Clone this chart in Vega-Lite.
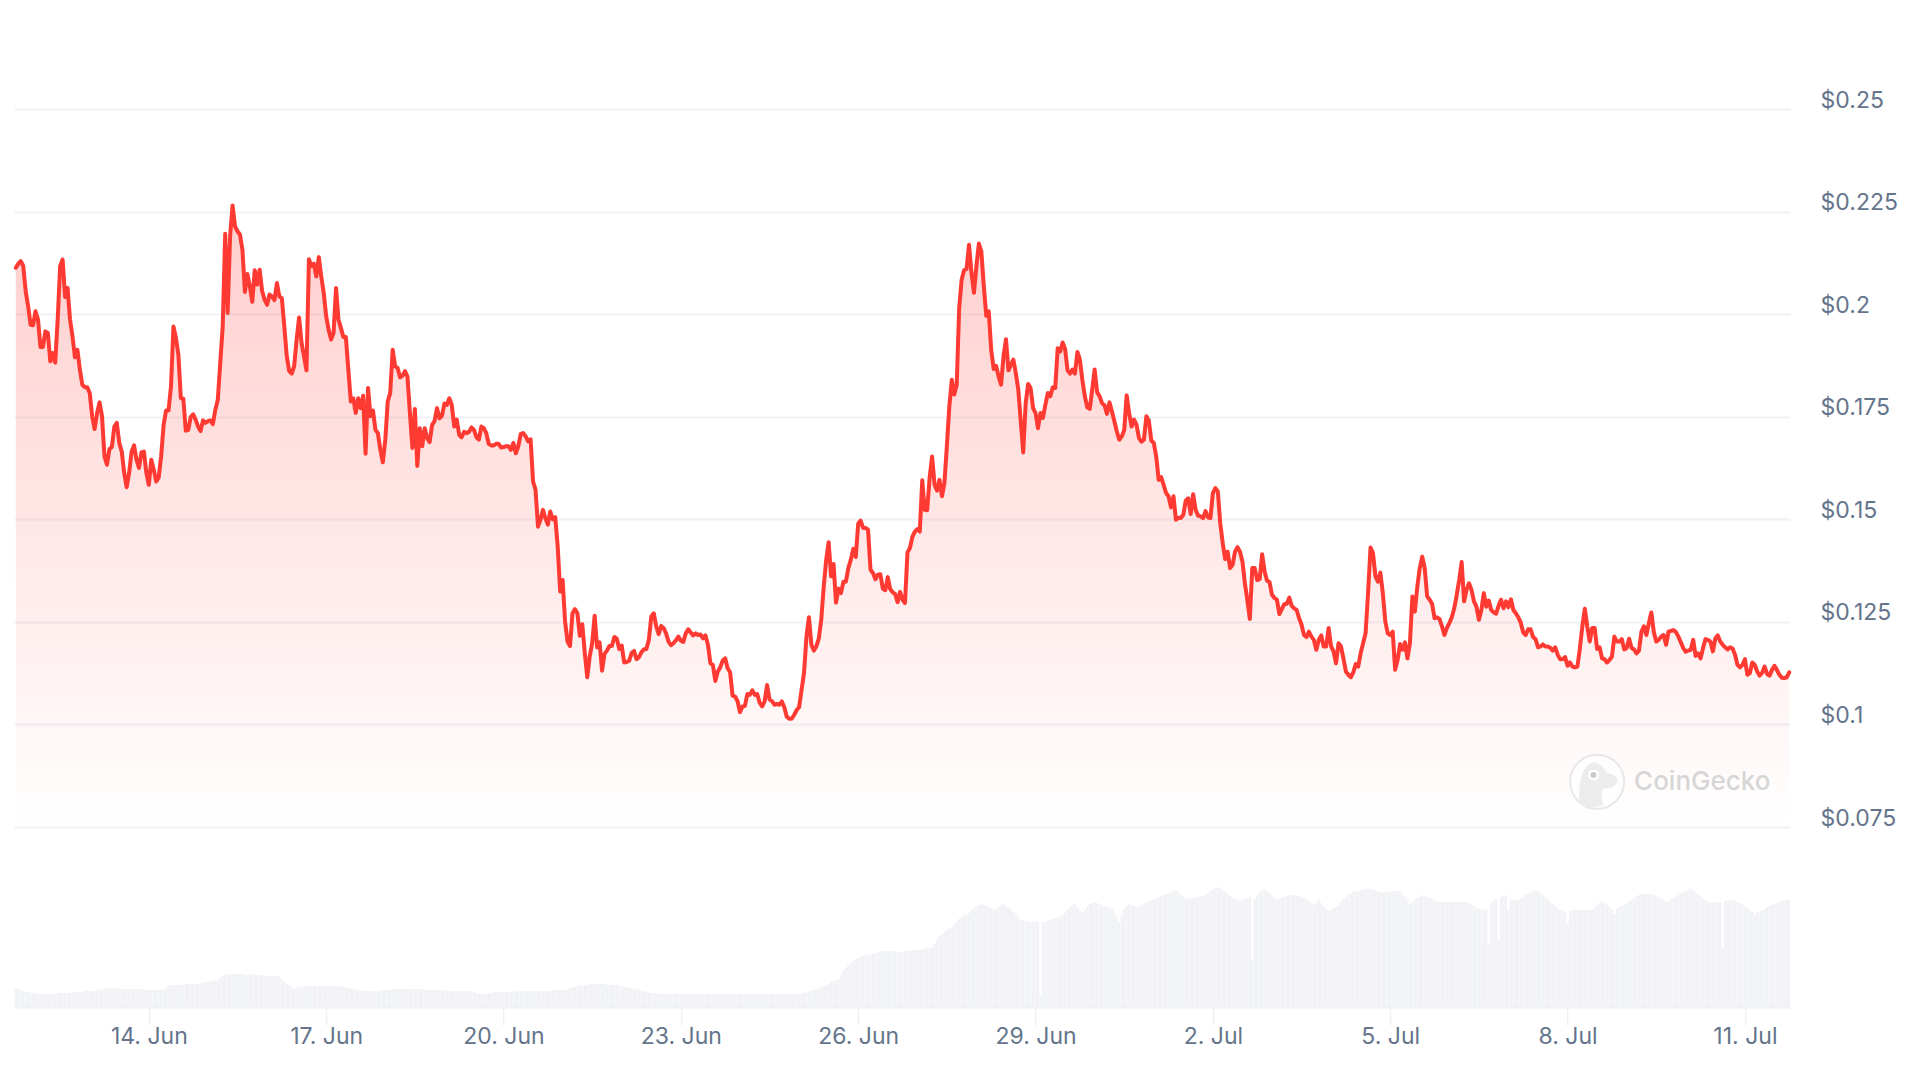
{
"$schema":"https://vega.github.io/schema/vega-lite/v6.json",
"autosize":"none",
"padding":{"left":14.1,"top":109,"right":125.9,"bottom":61},
"width":1776,
"height":898,
"background":"white",
"config":{"view":{"stroke":null},"font":"Inter"},
"datasets":{"market":[
{"t":"2024-06-11T18:00","p":0.2113,"v":18},{"t":"2024-06-11T19:00","p":0.2123,"v":18},{"t":"2024-06-11T20:00","p":0.2129,"v":17},{"t":"2024-06-11T21:00","p":0.2118,"v":16},{"t":"2024-06-11T22:00","p":0.2056,"v":15},{"t":"2024-06-11T23:00","p":0.2019,"v":15},
{"t":"2024-06-12T00:00","p":0.1974,"v":14},{"t":"2024-06-12T01:00","p":0.1973,"v":14},{"t":"2024-06-12T02:00","p":0.2007,"v":14},{"t":"2024-06-12T03:00","p":0.1987,"v":13},{"t":"2024-06-12T04:00","p":0.1920,"v":13},{"t":"2024-06-12T05:00","p":0.1920,"v":13},{"t":"2024-06-12T06:00","p":0.1958,"v":13},{"t":"2024-06-12T07:00","p":0.1954,"v":13},{"t":"2024-06-12T08:00","p":0.1885,"v":13},{"t":"2024-06-12T09:00","p":0.1905,"v":13},{"t":"2024-06-12T10:00","p":0.1882,"v":13},{"t":"2024-06-12T11:00","p":0.1987,"v":14},{"t":"2024-06-12T12:00","p":0.2117,"v":14},{"t":"2024-06-12T13:00","p":0.2133,"v":14},{"t":"2024-06-12T14:00","p":0.2042,"v":14},{"t":"2024-06-12T15:00","p":0.2064,"v":14},{"t":"2024-06-12T16:00","p":0.1987,"v":14},{"t":"2024-06-12T17:00","p":0.1946,"v":15},{"t":"2024-06-12T18:00","p":0.1895,"v":15},{"t":"2024-06-12T19:00","p":0.1913,"v":15},{"t":"2024-06-12T20:00","p":0.1865,"v":15},{"t":"2024-06-12T21:00","p":0.1828,"v":15},{"t":"2024-06-12T22:00","p":0.1822,"v":16},{"t":"2024-06-12T23:00","p":0.1822,"v":16},
{"t":"2024-06-13T00:00","p":0.1808,"v":16},{"t":"2024-06-13T01:00","p":0.1751,"v":16},{"t":"2024-06-13T02:00","p":0.1720,"v":16},{"t":"2024-06-13T03:00","p":0.1759,"v":17},{"t":"2024-06-13T04:00","p":0.1785,"v":17},{"t":"2024-06-13T05:00","p":0.1751,"v":18},{"t":"2024-06-13T06:00","p":0.1653,"v":18},{"t":"2024-06-13T07:00","p":0.1633,"v":19},{"t":"2024-06-13T08:00","p":0.1671,"v":19},{"t":"2024-06-13T09:00","p":0.1676,"v":19},{"t":"2024-06-13T10:00","p":0.1726,"v":19},{"t":"2024-06-13T11:00","p":0.1735,"v":19},{"t":"2024-06-13T12:00","p":0.1686,"v":18},{"t":"2024-06-13T13:00","p":0.1665,"v":18},{"t":"2024-06-13T14:00","p":0.1613,"v":18},{"t":"2024-06-13T15:00","p":0.1578,"v":18},{"t":"2024-06-13T16:00","p":0.1613,"v":18},{"t":"2024-06-13T17:00","p":0.1665,"v":18},{"t":"2024-06-13T18:00","p":0.1680,"v":18},{"t":"2024-06-13T19:00","p":0.1645,"v":18},{"t":"2024-06-13T20:00","p":0.1625,"v":18},{"t":"2024-06-13T21:00","p":0.1663,"v":18},{"t":"2024-06-13T22:00","p":0.1665,"v":18},{"t":"2024-06-13T23:00","p":0.1613,"v":17},
{"t":"2024-06-14T00:00","p":0.1584,"v":17},{"t":"2024-06-14T01:00","p":0.1645,"v":17},{"t":"2024-06-14T02:00","p":0.1621,"v":17},{"t":"2024-06-14T03:00","p":0.1592,"v":17},{"t":"2024-06-14T04:00","p":0.1602,"v":17},{"t":"2024-06-14T05:00","p":0.1653,"v":17},{"t":"2024-06-14T06:00","p":0.1730,"v":17},{"t":"2024-06-14T07:00","p":0.1765,"v":20},{"t":"2024-06-14T08:00","p":0.1765,"v":21},{"t":"2024-06-14T09:00","p":0.1824,"v":22},{"t":"2024-06-14T10:00","p":0.1970,"v":22},{"t":"2024-06-14T11:00","p":0.1942,"v":22},{"t":"2024-06-14T12:00","p":0.1901,"v":22},{"t":"2024-06-14T13:00","p":0.1795,"v":22},{"t":"2024-06-14T14:00","p":0.1794,"v":22},{"t":"2024-06-14T15:00","p":0.1716,"v":23},{"t":"2024-06-14T16:00","p":0.1718,"v":23},{"t":"2024-06-14T17:00","p":0.1749,"v":23},{"t":"2024-06-14T18:00","p":0.1756,"v":23},{"t":"2024-06-14T19:00","p":0.1743,"v":23},{"t":"2024-06-14T20:00","p":0.1726,"v":23},{"t":"2024-06-14T21:00","p":0.1715,"v":24},{"t":"2024-06-14T22:00","p":0.1741,"v":24},{"t":"2024-06-14T23:00","p":0.1735,"v":25},
{"t":"2024-06-15T00:00","p":0.1739,"v":25},{"t":"2024-06-15T01:00","p":0.1741,"v":26},{"t":"2024-06-15T02:00","p":0.1732,"v":26},{"t":"2024-06-15T03:00","p":0.1767,"v":27},{"t":"2024-06-15T04:00","p":0.1791,"v":27},{"t":"2024-06-15T05:00","p":0.1881,"v":29},{"t":"2024-06-15T06:00","p":0.1970,"v":31},{"t":"2024-06-15T07:00","p":0.2196,"v":32},{"t":"2024-06-15T08:00","p":0.2003,"v":33},{"t":"2024-06-15T09:00","p":0.2190,"v":33},{"t":"2024-06-15T10:00","p":0.2265,"v":33},{"t":"2024-06-15T11:00","p":0.2214,"v":33},{"t":"2024-06-15T12:00","p":0.2202,"v":33},{"t":"2024-06-15T13:00","p":0.2194,"v":33},{"t":"2024-06-15T14:00","p":0.2157,"v":33},{"t":"2024-06-15T15:00","p":0.2054,"v":32},{"t":"2024-06-15T16:00","p":0.2098,"v":32},{"t":"2024-06-15T17:00","p":0.2068,"v":33},{"t":"2024-06-15T18:00","p":0.2030,"v":33},{"t":"2024-06-15T19:00","p":0.2107,"v":32},{"t":"2024-06-15T20:00","p":0.2072,"v":32},{"t":"2024-06-15T21:00","p":0.2108,"v":32},{"t":"2024-06-15T22:00","p":0.2056,"v":32},{"t":"2024-06-15T23:00","p":0.2035,"v":31},
{"t":"2024-06-16T00:00","p":0.2023,"v":31},{"t":"2024-06-16T01:00","p":0.2048,"v":31},{"t":"2024-06-16T02:00","p":0.2043,"v":31},{"t":"2024-06-16T03:00","p":0.2034,"v":31},{"t":"2024-06-16T04:00","p":0.2076,"v":31},{"t":"2024-06-16T05:00","p":0.2043,"v":30},{"t":"2024-06-16T06:00","p":0.2039,"v":28},{"t":"2024-06-16T07:00","p":0.1970,"v":25},{"t":"2024-06-16T08:00","p":0.1897,"v":23},{"t":"2024-06-16T09:00","p":0.1861,"v":22},{"t":"2024-06-16T10:00","p":0.1855,"v":20},{"t":"2024-06-16T11:00","p":0.1873,"v":18},{"t":"2024-06-16T12:00","p":0.1938,"v":19},{"t":"2024-06-16T13:00","p":0.1992,"v":20},{"t":"2024-06-16T14:00","p":0.1930,"v":20},{"t":"2024-06-16T15:00","p":0.1897,"v":21},{"t":"2024-06-16T16:00","p":0.1863,"v":21},{"t":"2024-06-16T17:00","p":0.2134,"v":21},{"t":"2024-06-16T18:00","p":0.2117,"v":21},{"t":"2024-06-16T19:00","p":0.2123,"v":21},{"t":"2024-06-16T20:00","p":0.2092,"v":21},{"t":"2024-06-16T21:00","p":0.2139,"v":21},{"t":"2024-06-16T22:00","p":0.2092,"v":21},{"t":"2024-06-16T23:00","p":0.2052,"v":21},
{"t":"2024-06-17T00:00","p":0.1995,"v":21},{"t":"2024-06-17T01:00","p":0.1962,"v":21},{"t":"2024-06-17T02:00","p":0.1938,"v":21},{"t":"2024-06-17T03:00","p":0.1954,"v":21},{"t":"2024-06-17T04:00","p":0.2064,"v":21},{"t":"2024-06-17T05:00","p":0.1987,"v":21},{"t":"2024-06-17T06:00","p":0.1966,"v":21},{"t":"2024-06-17T07:00","p":0.1944,"v":20},{"t":"2024-06-17T08:00","p":0.1944,"v":20},{"t":"2024-06-17T09:00","p":0.1865,"v":19},{"t":"2024-06-17T10:00","p":0.1787,"v":19},{"t":"2024-06-17T11:00","p":0.1795,"v":18},{"t":"2024-06-17T12:00","p":0.1759,"v":18},{"t":"2024-06-17T13:00","p":0.1795,"v":17},{"t":"2024-06-17T14:00","p":0.1771,"v":17},{"t":"2024-06-17T15:00","p":0.1801,"v":16},{"t":"2024-06-17T16:00","p":0.1660,"v":16},{"t":"2024-06-17T17:00","p":0.1820,"v":16},{"t":"2024-06-17T18:00","p":0.1751,"v":16},{"t":"2024-06-17T19:00","p":0.1765,"v":16},{"t":"2024-06-17T20:00","p":0.1718,"v":16},{"t":"2024-06-17T21:00","p":0.1710,"v":16},{"t":"2024-06-17T22:00","p":0.1669,"v":16},{"t":"2024-06-17T23:00","p":0.1639,"v":17},
{"t":"2024-06-18T00:00","p":0.1694,"v":17},{"t":"2024-06-18T01:00","p":0.1787,"v":17},{"t":"2024-06-18T02:00","p":0.1808,"v":17},{"t":"2024-06-18T03:00","p":0.1913,"v":18},{"t":"2024-06-18T04:00","p":0.1873,"v":18},{"t":"2024-06-18T05:00","p":0.1869,"v":18},{"t":"2024-06-18T06:00","p":0.1846,"v":18},{"t":"2024-06-18T07:00","p":0.1850,"v":18},{"t":"2024-06-18T08:00","p":0.1861,"v":18},{"t":"2024-06-18T09:00","p":0.1848,"v":18},{"t":"2024-06-18T10:00","p":0.1759,"v":18},{"t":"2024-06-18T11:00","p":0.1674,"v":18},{"t":"2024-06-18T12:00","p":0.1769,"v":18},{"t":"2024-06-18T13:00","p":0.1630,"v":18},{"t":"2024-06-18T14:00","p":0.1722,"v":18},{"t":"2024-06-18T15:00","p":0.1678,"v":18},{"t":"2024-06-18T16:00","p":0.1722,"v":17},{"t":"2024-06-18T17:00","p":0.1698,"v":17},{"t":"2024-06-18T18:00","p":0.1688,"v":17},{"t":"2024-06-18T19:00","p":0.1730,"v":17},{"t":"2024-06-18T20:00","p":0.1739,"v":17},{"t":"2024-06-18T21:00","p":0.1771,"v":17},{"t":"2024-06-18T22:00","p":0.1746,"v":17},{"t":"2024-06-18T23:00","p":0.1752,"v":17},
{"t":"2024-06-19T00:00","p":0.1782,"v":17},{"t":"2024-06-19T01:00","p":0.1779,"v":16},{"t":"2024-06-19T02:00","p":0.1795,"v":16},{"t":"2024-06-19T03:00","p":0.1778,"v":16},{"t":"2024-06-19T04:00","p":0.1726,"v":16},{"t":"2024-06-19T05:00","p":0.1743,"v":16},{"t":"2024-06-19T06:00","p":0.1706,"v":16},{"t":"2024-06-19T07:00","p":0.1700,"v":16},{"t":"2024-06-19T08:00","p":0.1713,"v":16},{"t":"2024-06-19T09:00","p":0.1710,"v":16},{"t":"2024-06-19T10:00","p":0.1713,"v":16},{"t":"2024-06-19T11:00","p":0.1724,"v":15},{"t":"2024-06-19T12:00","p":0.1718,"v":15},{"t":"2024-06-19T13:00","p":0.1700,"v":14},{"t":"2024-06-19T14:00","p":0.1694,"v":14},{"t":"2024-06-19T15:00","p":0.1726,"v":13},{"t":"2024-06-19T16:00","p":0.1722,"v":13},{"t":"2024-06-19T17:00","p":0.1710,"v":13},{"t":"2024-06-19T18:00","p":0.1684,"v":14},{"t":"2024-06-19T19:00","p":0.1680,"v":14},{"t":"2024-06-19T20:00","p":0.1680,"v":15},{"t":"2024-06-19T21:00","p":0.1684,"v":15},{"t":"2024-06-19T22:00","p":0.1684,"v":15},{"t":"2024-06-19T23:00","p":0.1675,"v":15},
{"t":"2024-06-20T00:00","p":0.1676,"v":15},{"t":"2024-06-20T01:00","p":0.1678,"v":15},{"t":"2024-06-20T02:00","p":0.1678,"v":15},{"t":"2024-06-20T03:00","p":0.1669,"v":15},{"t":"2024-06-20T04:00","p":0.1686,"v":15},{"t":"2024-06-20T05:00","p":0.1661,"v":16},{"t":"2024-06-20T06:00","p":0.1678,"v":16},{"t":"2024-06-20T07:00","p":0.1708,"v":16},{"t":"2024-06-20T08:00","p":0.1710,"v":16},{"t":"2024-06-20T09:00","p":0.1702,"v":16},{"t":"2024-06-20T10:00","p":0.1690,"v":16},{"t":"2024-06-20T11:00","p":0.1695,"v":16},{"t":"2024-06-20T12:00","p":0.1592,"v":16},{"t":"2024-06-20T13:00","p":0.1572,"v":16},{"t":"2024-06-20T14:00","p":0.1482,"v":16},{"t":"2024-06-20T15:00","p":0.1499,"v":16},{"t":"2024-06-20T16:00","p":0.1523,"v":16},{"t":"2024-06-20T17:00","p":0.1503,"v":16},{"t":"2024-06-20T18:00","p":0.1487,"v":16},{"t":"2024-06-20T19:00","p":0.1519,"v":16},{"t":"2024-06-20T20:00","p":0.1500,"v":17},{"t":"2024-06-20T21:00","p":0.1505,"v":17},{"t":"2024-06-20T22:00","p":0.1434,"v":17},{"t":"2024-06-20T23:00","p":0.1324,"v":17},
{"t":"2024-06-21T00:00","p":0.1352,"v":17},{"t":"2024-06-21T01:00","p":0.1251,"v":17},{"t":"2024-06-21T02:00","p":0.1202,"v":18},{"t":"2024-06-21T03:00","p":0.1191,"v":19},{"t":"2024-06-21T04:00","p":0.1271,"v":20},{"t":"2024-06-21T05:00","p":0.1281,"v":20},{"t":"2024-06-21T06:00","p":0.1271,"v":21},{"t":"2024-06-21T07:00","p":0.1216,"v":21},{"t":"2024-06-21T08:00","p":0.1244,"v":22},{"t":"2024-06-21T09:00","p":0.1174,"v":22},{"t":"2024-06-21T10:00","p":0.1115,"v":22},{"t":"2024-06-21T11:00","p":0.1166,"v":23},{"t":"2024-06-21T12:00","p":0.1198,"v":23},{"t":"2024-06-21T13:00","p":0.1265,"v":23},{"t":"2024-06-21T14:00","p":0.1188,"v":23},{"t":"2024-06-21T15:00","p":0.1200,"v":23},{"t":"2024-06-21T16:00","p":0.1131,"v":23},{"t":"2024-06-21T17:00","p":0.1172,"v":23},{"t":"2024-06-21T18:00","p":0.1180,"v":22},{"t":"2024-06-21T19:00","p":0.1191,"v":22},{"t":"2024-06-21T20:00","p":0.1191,"v":22},{"t":"2024-06-21T21:00","p":0.1213,"v":22},{"t":"2024-06-21T22:00","p":0.1209,"v":22},{"t":"2024-06-21T23:00","p":0.1184,"v":21},
{"t":"2024-06-22T00:00","p":0.1192,"v":21},{"t":"2024-06-22T01:00","p":0.1151,"v":20},{"t":"2024-06-22T02:00","p":0.1152,"v":20},{"t":"2024-06-22T03:00","p":0.1155,"v":19},{"t":"2024-06-22T04:00","p":0.1174,"v":19},{"t":"2024-06-22T05:00","p":0.1179,"v":18},{"t":"2024-06-22T06:00","p":0.1159,"v":18},{"t":"2024-06-22T07:00","p":0.1164,"v":17},{"t":"2024-06-22T08:00","p":0.1176,"v":16},{"t":"2024-06-22T09:00","p":0.1183,"v":16},{"t":"2024-06-22T10:00","p":0.1184,"v":15},{"t":"2024-06-22T11:00","p":0.1206,"v":15},{"t":"2024-06-22T12:00","p":0.1263,"v":14},{"t":"2024-06-22T13:00","p":0.1271,"v":14},{"t":"2024-06-22T14:00","p":0.1239,"v":14},{"t":"2024-06-22T15:00","p":0.1220,"v":13},{"t":"2024-06-22T16:00","p":0.1240,"v":13},{"t":"2024-06-22T17:00","p":0.1235,"v":13},{"t":"2024-06-22T18:00","p":0.1222,"v":13},{"t":"2024-06-22T19:00","p":0.1202,"v":13},{"t":"2024-06-22T20:00","p":0.1193,"v":13},{"t":"2024-06-22T21:00","p":0.1198,"v":13},{"t":"2024-06-22T22:00","p":0.1205,"v":13},{"t":"2024-06-22T23:00","p":0.1214,"v":13},
{"t":"2024-06-23T00:00","p":0.1204,"v":13},{"t":"2024-06-23T01:00","p":0.1201,"v":13},{"t":"2024-06-23T02:00","p":0.1222,"v":13},{"t":"2024-06-23T03:00","p":0.1232,"v":13},{"t":"2024-06-23T04:00","p":0.1224,"v":13},{"t":"2024-06-23T05:00","p":0.1217,"v":13},{"t":"2024-06-23T06:00","p":0.1222,"v":13},{"t":"2024-06-23T07:00","p":0.1218,"v":13},{"t":"2024-06-23T08:00","p":0.1219,"v":13},{"t":"2024-06-23T09:00","p":0.1210,"v":13},{"t":"2024-06-23T10:00","p":0.1217,"v":13},{"t":"2024-06-23T11:00","p":0.1194,"v":13},{"t":"2024-06-23T12:00","p":0.1149,"v":13},{"t":"2024-06-23T13:00","p":0.1145,"v":13},{"t":"2024-06-23T14:00","p":0.1106,"v":13},{"t":"2024-06-23T15:00","p":0.1129,"v":13},{"t":"2024-06-23T16:00","p":0.1139,"v":13},{"t":"2024-06-23T17:00","p":0.1156,"v":13},{"t":"2024-06-23T18:00","p":0.1161,"v":13},{"t":"2024-06-23T19:00","p":0.1137,"v":13},{"t":"2024-06-23T20:00","p":0.1127,"v":13},{"t":"2024-06-23T21:00","p":0.1070,"v":13},{"t":"2024-06-23T22:00","p":0.1068,"v":13},{"t":"2024-06-23T23:00","p":0.1057,"v":13},
{"t":"2024-06-24T00:00","p":0.1030,"v":13},{"t":"2024-06-24T01:00","p":0.1044,"v":13},{"t":"2024-06-24T02:00","p":0.1045,"v":13},{"t":"2024-06-24T03:00","p":0.1074,"v":13},{"t":"2024-06-24T04:00","p":0.1072,"v":13},{"t":"2024-06-24T05:00","p":0.1083,"v":13},{"t":"2024-06-24T06:00","p":0.1072,"v":13},{"t":"2024-06-24T07:00","p":0.1074,"v":13},{"t":"2024-06-24T08:00","p":0.1053,"v":13},{"t":"2024-06-24T09:00","p":0.1044,"v":13},{"t":"2024-06-24T10:00","p":0.1056,"v":13},{"t":"2024-06-24T11:00","p":0.1096,"v":13},{"t":"2024-06-24T12:00","p":0.1061,"v":13},{"t":"2024-06-24T13:00","p":0.1057,"v":13},{"t":"2024-06-24T14:00","p":0.1048,"v":13},{"t":"2024-06-24T15:00","p":0.1050,"v":13},{"t":"2024-06-24T16:00","p":0.1048,"v":13},{"t":"2024-06-24T17:00","p":0.1056,"v":13},{"t":"2024-06-24T18:00","p":0.1042,"v":13},{"t":"2024-06-24T19:00","p":0.1019,"v":13},{"t":"2024-06-24T20:00","p":0.1014,"v":13},{"t":"2024-06-24T21:00","p":0.1014,"v":13},{"t":"2024-06-24T22:00","p":0.1023,"v":13},{"t":"2024-06-24T23:00","p":0.1035,"v":13},
{"t":"2024-06-25T00:00","p":0.1042,"v":13},{"t":"2024-06-25T01:00","p":0.1084,"v":14},{"t":"2024-06-25T02:00","p":0.1125,"v":14},{"t":"2024-06-25T03:00","p":0.1214,"v":15},{"t":"2024-06-25T04:00","p":0.1261,"v":16},{"t":"2024-06-25T05:00","p":0.1194,"v":16},{"t":"2024-06-25T06:00","p":0.1180,"v":17},{"t":"2024-06-25T07:00","p":0.1190,"v":18},{"t":"2024-06-25T08:00","p":0.1209,"v":19},{"t":"2024-06-25T09:00","p":0.1255,"v":20},{"t":"2024-06-25T10:00","p":0.1336,"v":21},{"t":"2024-06-25T11:00","p":0.1401,"v":22},{"t":"2024-06-25T12:00","p":0.1444,"v":23},{"t":"2024-06-25T13:00","p":0.1361,"v":25},{"t":"2024-06-25T14:00","p":0.1391,"v":26},{"t":"2024-06-25T15:00","p":0.1297,"v":27},{"t":"2024-06-25T16:00","p":0.1331,"v":28},{"t":"2024-06-25T17:00","p":0.1320,"v":32},{"t":"2024-06-25T18:00","p":0.1348,"v":36},{"t":"2024-06-25T19:00","p":0.1348,"v":39},{"t":"2024-06-25T20:00","p":0.1381,"v":42},{"t":"2024-06-25T21:00","p":0.1401,"v":44},{"t":"2024-06-25T22:00","p":0.1428,"v":46},{"t":"2024-06-25T23:00","p":0.1408,"v":48},
{"t":"2024-06-26T00:00","p":0.1489,"v":49},{"t":"2024-06-26T01:00","p":0.1497,"v":50},{"t":"2024-06-26T02:00","p":0.1479,"v":51},{"t":"2024-06-26T03:00","p":0.1479,"v":52},{"t":"2024-06-26T04:00","p":0.1475,"v":52},{"t":"2024-06-26T05:00","p":0.1377,"v":53},{"t":"2024-06-26T06:00","p":0.1369,"v":54},{"t":"2024-06-26T07:00","p":0.1354,"v":54},{"t":"2024-06-26T08:00","p":0.1365,"v":55},{"t":"2024-06-26T09:00","p":0.1366,"v":55},{"t":"2024-06-26T10:00","p":0.1331,"v":56},{"t":"2024-06-26T11:00","p":0.1327,"v":56},{"t":"2024-06-26T12:00","p":0.1359,"v":56},{"t":"2024-06-26T13:00","p":0.1330,"v":56},{"t":"2024-06-26T14:00","p":0.1322,"v":56},{"t":"2024-06-26T15:00","p":0.1318,"v":55},{"t":"2024-06-26T16:00","p":0.1298,"v":55},{"t":"2024-06-26T17:00","p":0.1323,"v":55},{"t":"2024-06-26T18:00","p":0.1304,"v":55},{"t":"2024-06-26T19:00","p":0.1296,"v":56},{"t":"2024-06-26T20:00","p":0.1419,"v":56},{"t":"2024-06-26T21:00","p":0.1430,"v":56},{"t":"2024-06-26T22:00","p":0.1457,"v":57},{"t":"2024-06-26T23:00","p":0.1470,"v":57},
{"t":"2024-06-27T00:00","p":0.1476,"v":57},{"t":"2024-06-27T01:00","p":0.1470,"v":57},{"t":"2024-06-27T02:00","p":0.1595,"v":58},{"t":"2024-06-27T03:00","p":0.1523,"v":58},{"t":"2024-06-27T04:00","p":0.1522,"v":59},{"t":"2024-06-27T05:00","p":0.1601,"v":59},{"t":"2024-06-27T06:00","p":0.1653,"v":60},{"t":"2024-06-27T07:00","p":0.1584,"v":63},{"t":"2024-06-27T08:00","p":0.1570,"v":67},{"t":"2024-06-27T09:00","p":0.1596,"v":71},{"t":"2024-06-27T10:00","p":0.1556,"v":73},{"t":"2024-06-27T11:00","p":0.1588,"v":75},{"t":"2024-06-27T12:00","p":0.1678,"v":77},{"t":"2024-06-27T13:00","p":0.1775,"v":79},{"t":"2024-06-27T14:00","p":0.1840,"v":80},{"t":"2024-06-27T15:00","p":0.1804,"v":83},{"t":"2024-06-27T16:00","p":0.1828,"v":85},{"t":"2024-06-27T17:00","p":0.2015,"v":88},{"t":"2024-06-27T18:00","p":0.2084,"v":90},{"t":"2024-06-27T19:00","p":0.2107,"v":92},{"t":"2024-06-27T20:00","p":0.2110,"v":93},{"t":"2024-06-27T21:00","p":0.2169,"v":94},{"t":"2024-06-27T22:00","p":0.2100,"v":97},{"t":"2024-06-27T23:00","p":0.2052,"v":99},
{"t":"2024-06-28T00:00","p":0.2117,"v":101},{"t":"2024-06-28T01:00","p":0.2172,"v":102},{"t":"2024-06-28T02:00","p":0.2153,"v":103},{"t":"2024-06-28T03:00","p":0.2068,"v":102},{"t":"2024-06-28T04:00","p":0.1996,"v":101},{"t":"2024-06-28T05:00","p":0.2007,"v":100},{"t":"2024-06-28T06:00","p":0.1913,"v":99},{"t":"2024-06-28T07:00","p":0.1866,"v":98},{"t":"2024-06-28T08:00","p":0.1874,"v":98},{"t":"2024-06-28T09:00","p":0.1848,"v":100},{"t":"2024-06-28T10:00","p":0.1828,"v":102},{"t":"2024-06-28T11:00","p":0.1897,"v":103},{"t":"2024-06-28T12:00","p":0.1939,"v":101},{"t":"2024-06-28T13:00","p":0.1863,"v":99},{"t":"2024-06-28T14:00","p":0.1877,"v":97},{"t":"2024-06-28T15:00","p":0.1889,"v":95},{"t":"2024-06-28T16:00","p":0.1856,"v":93},{"t":"2024-06-28T17:00","p":0.1816,"v":90},{"t":"2024-06-28T18:00","p":0.1739,"v":87},{"t":"2024-06-28T19:00","p":0.1663,"v":87},{"t":"2024-06-28T20:00","p":0.1783,"v":86},{"t":"2024-06-28T21:00","p":0.1830,"v":86},{"t":"2024-06-28T22:00","p":0.1820,"v":85},{"t":"2024-06-28T23:00","p":0.1771,"v":85},
{"t":"2024-06-29T00:00","p":0.1759,"v":85},{"t":"2024-06-29T01:00","p":0.1722,"v":85},{"t":"2024-06-29T02:00","p":0.1759,"v":13},{"t":"2024-06-29T03:00","p":0.1747,"v":85},{"t":"2024-06-29T04:00","p":0.1779,"v":85},{"t":"2024-06-29T05:00","p":0.1808,"v":86},{"t":"2024-06-29T06:00","p":0.1800,"v":87},{"t":"2024-06-29T07:00","p":0.1822,"v":88},{"t":"2024-06-29T08:00","p":0.1820,"v":89},{"t":"2024-06-29T09:00","p":0.1917,"v":90},{"t":"2024-06-29T10:00","p":0.1909,"v":90},{"t":"2024-06-29T11:00","p":0.1931,"v":92},{"t":"2024-06-29T12:00","p":0.1915,"v":94},{"t":"2024-06-29T13:00","p":0.1863,"v":97},{"t":"2024-06-29T14:00","p":0.1855,"v":100},{"t":"2024-06-29T15:00","p":0.1865,"v":102},{"t":"2024-06-29T16:00","p":0.1855,"v":103},{"t":"2024-06-29T17:00","p":0.1908,"v":100},{"t":"2024-06-29T18:00","p":0.1889,"v":97},{"t":"2024-06-29T19:00","p":0.1840,"v":95},{"t":"2024-06-29T20:00","p":0.1800,"v":97},{"t":"2024-06-29T21:00","p":0.1773,"v":100},{"t":"2024-06-29T22:00","p":0.1769,"v":103},{"t":"2024-06-29T23:00","p":0.1816,"v":104},
{"t":"2024-06-30T00:00","p":0.1865,"v":105},{"t":"2024-06-30T01:00","p":0.1810,"v":104},{"t":"2024-06-30T02:00","p":0.1800,"v":103},{"t":"2024-06-30T03:00","p":0.1783,"v":102},{"t":"2024-06-30T04:00","p":0.1778,"v":101},{"t":"2024-06-30T05:00","p":0.1757,"v":100},{"t":"2024-06-30T06:00","p":0.1785,"v":99},{"t":"2024-06-30T07:00","p":0.1763,"v":98},{"t":"2024-06-30T08:00","p":0.1739,"v":94},{"t":"2024-06-30T09:00","p":0.1714,"v":90},{"t":"2024-06-30T10:00","p":0.1694,"v":85},{"t":"2024-06-30T11:00","p":0.1702,"v":92},{"t":"2024-06-30T12:00","p":0.1717,"v":98},{"t":"2024-06-30T13:00","p":0.1802,"v":101},{"t":"2024-06-30T14:00","p":0.1759,"v":103},{"t":"2024-06-30T15:00","p":0.1726,"v":102},{"t":"2024-06-30T16:00","p":0.1743,"v":101},{"t":"2024-06-30T17:00","p":0.1730,"v":100},{"t":"2024-06-30T18:00","p":0.1698,"v":101},{"t":"2024-06-30T19:00","p":0.1689,"v":102},{"t":"2024-06-30T20:00","p":0.1694,"v":103},{"t":"2024-06-30T21:00","p":0.1751,"v":105},{"t":"2024-06-30T22:00","p":0.1741,"v":106},{"t":"2024-06-30T23:00","p":0.1692,"v":107},
{"t":"2024-07-01T00:00","p":0.1686,"v":108},{"t":"2024-07-01T01:00","p":0.1653,"v":109},{"t":"2024-07-01T02:00","p":0.1596,"v":110},{"t":"2024-07-01T03:00","p":0.1603,"v":111},{"t":"2024-07-01T04:00","p":0.1584,"v":112},{"t":"2024-07-01T05:00","p":0.1564,"v":113},{"t":"2024-07-01T06:00","p":0.1556,"v":114},{"t":"2024-07-01T07:00","p":0.1529,"v":115},{"t":"2024-07-01T08:00","p":0.1556,"v":116},{"t":"2024-07-01T09:00","p":0.1499,"v":117},{"t":"2024-07-01T10:00","p":0.1504,"v":115},{"t":"2024-07-01T11:00","p":0.1503,"v":112},{"t":"2024-07-01T12:00","p":0.1511,"v":110},{"t":"2024-07-01T13:00","p":0.1546,"v":108},{"t":"2024-07-01T14:00","p":0.1551,"v":108},{"t":"2024-07-01T15:00","p":0.1513,"v":109},{"t":"2024-07-01T16:00","p":0.1561,"v":109},{"t":"2024-07-01T17:00","p":0.1523,"v":110},{"t":"2024-07-01T18:00","p":0.1509,"v":110},{"t":"2024-07-01T19:00","p":0.1507,"v":111},{"t":"2024-07-01T20:00","p":0.1503,"v":111},{"t":"2024-07-01T21:00","p":0.1520,"v":112},{"t":"2024-07-01T22:00","p":0.1505,"v":114},{"t":"2024-07-01T23:00","p":0.1503,"v":116},
{"t":"2024-07-02T00:00","p":0.1564,"v":118},{"t":"2024-07-02T01:00","p":0.1576,"v":119},{"t":"2024-07-02T02:00","p":0.1568,"v":120},{"t":"2024-07-02T03:00","p":0.1490,"v":119},{"t":"2024-07-02T04:00","p":0.1442,"v":117},{"t":"2024-07-02T05:00","p":0.1403,"v":115},{"t":"2024-07-02T06:00","p":0.1421,"v":113},{"t":"2024-07-02T07:00","p":0.1381,"v":111},{"t":"2024-07-02T08:00","p":0.1389,"v":109},{"t":"2024-07-02T09:00","p":0.1421,"v":108},{"t":"2024-07-02T10:00","p":0.1432,"v":107},{"t":"2024-07-02T11:00","p":0.1421,"v":106},{"t":"2024-07-02T12:00","p":0.1397,"v":107},{"t":"2024-07-02T13:00","p":0.1344,"v":108},{"t":"2024-07-02T14:00","p":0.1303,"v":109},{"t":"2024-07-02T15:00","p":0.1257,"v":110},{"t":"2024-07-02T16:00","p":0.1381,"v":48},{"t":"2024-07-02T17:00","p":0.1381,"v":108},{"t":"2024-07-02T18:00","p":0.1352,"v":112},{"t":"2024-07-02T19:00","p":0.1354,"v":115},{"t":"2024-07-02T20:00","p":0.1415,"v":117},{"t":"2024-07-02T21:00","p":0.1373,"v":118},{"t":"2024-07-02T22:00","p":0.1350,"v":116},{"t":"2024-07-02T23:00","p":0.1347,"v":114},
{"t":"2024-07-03T00:00","p":0.1316,"v":112},{"t":"2024-07-03T01:00","p":0.1308,"v":109},{"t":"2024-07-03T02:00","p":0.1304,"v":107},{"t":"2024-07-03T03:00","p":0.1269,"v":108},{"t":"2024-07-03T04:00","p":0.1281,"v":109},{"t":"2024-07-03T05:00","p":0.1293,"v":110},{"t":"2024-07-03T06:00","p":0.1294,"v":111},{"t":"2024-07-03T07:00","p":0.1309,"v":112},{"t":"2024-07-03T08:00","p":0.1289,"v":112},{"t":"2024-07-03T09:00","p":0.1283,"v":112},{"t":"2024-07-03T10:00","p":0.1279,"v":111},{"t":"2024-07-03T11:00","p":0.1259,"v":111},{"t":"2024-07-03T12:00","p":0.1243,"v":110},{"t":"2024-07-03T13:00","p":0.1218,"v":110},{"t":"2024-07-03T14:00","p":0.1213,"v":108},{"t":"2024-07-03T15:00","p":0.1226,"v":106},{"t":"2024-07-03T16:00","p":0.1214,"v":104},{"t":"2024-07-03T17:00","p":0.1206,"v":102},{"t":"2024-07-03T18:00","p":0.1182,"v":104},{"t":"2024-07-03T19:00","p":0.1206,"v":107},{"t":"2024-07-03T20:00","p":0.1217,"v":104},{"t":"2024-07-03T21:00","p":0.1190,"v":101},{"t":"2024-07-03T22:00","p":0.1190,"v":98},{"t":"2024-07-03T23:00","p":0.1235,"v":96},
{"t":"2024-07-04T00:00","p":0.1190,"v":97},{"t":"2024-07-04T01:00","p":0.1178,"v":99},{"t":"2024-07-04T02:00","p":0.1149,"v":100},{"t":"2024-07-04T03:00","p":0.1198,"v":102},{"t":"2024-07-04T04:00","p":0.1190,"v":105},{"t":"2024-07-04T05:00","p":0.1161,"v":108},{"t":"2024-07-04T06:00","p":0.1129,"v":110},{"t":"2024-07-04T07:00","p":0.1121,"v":112},{"t":"2024-07-04T08:00","p":0.1115,"v":114},{"t":"2024-07-04T09:00","p":0.1127,"v":115},{"t":"2024-07-04T10:00","p":0.1147,"v":116},{"t":"2024-07-04T11:00","p":0.1141,"v":116},{"t":"2024-07-04T12:00","p":0.1174,"v":117},{"t":"2024-07-04T13:00","p":0.1198,"v":117},{"t":"2024-07-04T14:00","p":0.1222,"v":118},{"t":"2024-07-04T15:00","p":0.1320,"v":118},{"t":"2024-07-04T16:00","p":0.1431,"v":118},{"t":"2024-07-04T17:00","p":0.1418,"v":117},{"t":"2024-07-04T18:00","p":0.1361,"v":117},{"t":"2024-07-04T19:00","p":0.1348,"v":116},{"t":"2024-07-04T20:00","p":0.1370,"v":115},{"t":"2024-07-04T21:00","p":0.1320,"v":115},{"t":"2024-07-04T22:00","p":0.1251,"v":115},{"t":"2024-07-04T23:00","p":0.1222,"v":115},
{"t":"2024-07-05T00:00","p":0.1218,"v":116},{"t":"2024-07-05T01:00","p":0.1226,"v":116},{"t":"2024-07-05T02:00","p":0.1133,"v":116},{"t":"2024-07-05T03:00","p":0.1157,"v":116},{"t":"2024-07-05T04:00","p":0.1196,"v":116},{"t":"2024-07-05T05:00","p":0.1182,"v":113},{"t":"2024-07-05T06:00","p":0.1200,"v":110},{"t":"2024-07-05T07:00","p":0.1161,"v":107},{"t":"2024-07-05T08:00","p":0.1198,"v":103},{"t":"2024-07-05T09:00","p":0.1312,"v":105},{"t":"2024-07-05T10:00","p":0.1275,"v":107},{"t":"2024-07-05T11:00","p":0.1336,"v":109},{"t":"2024-07-05T12:00","p":0.1381,"v":110},{"t":"2024-07-05T13:00","p":0.1409,"v":112},{"t":"2024-07-05T14:00","p":0.1381,"v":111},{"t":"2024-07-05T15:00","p":0.1312,"v":110},{"t":"2024-07-05T16:00","p":0.1304,"v":109},{"t":"2024-07-05T17:00","p":0.1294,"v":108},{"t":"2024-07-05T18:00","p":0.1259,"v":107},{"t":"2024-07-05T19:00","p":0.1261,"v":106},{"t":"2024-07-05T20:00","p":0.1257,"v":105},{"t":"2024-07-05T21:00","p":0.1239,"v":105},{"t":"2024-07-05T22:00","p":0.1218,"v":105},{"t":"2024-07-05T23:00","p":0.1235,"v":105},
{"t":"2024-07-06T00:00","p":0.1247,"v":105},{"t":"2024-07-06T01:00","p":0.1261,"v":105},{"t":"2024-07-06T02:00","p":0.1283,"v":105},{"t":"2024-07-06T03:00","p":0.1316,"v":105},{"t":"2024-07-06T04:00","p":0.1352,"v":105},{"t":"2024-07-06T05:00","p":0.1396,"v":105},{"t":"2024-07-06T06:00","p":0.1300,"v":105},{"t":"2024-07-06T07:00","p":0.1328,"v":105},{"t":"2024-07-06T08:00","p":0.1344,"v":104},{"t":"2024-07-06T09:00","p":0.1328,"v":102},{"t":"2024-07-06T10:00","p":0.1300,"v":101},{"t":"2024-07-06T11:00","p":0.1287,"v":99},{"t":"2024-07-06T12:00","p":0.1255,"v":98},{"t":"2024-07-06T13:00","p":0.1279,"v":97},{"t":"2024-07-06T14:00","p":0.1320,"v":97},{"t":"2024-07-06T15:00","p":0.1287,"v":98},{"t":"2024-07-06T16:00","p":0.1302,"v":62},{"t":"2024-07-06T17:00","p":0.1279,"v":104},{"t":"2024-07-06T18:00","p":0.1273,"v":107},{"t":"2024-07-06T19:00","p":0.1270,"v":108},{"t":"2024-07-06T20:00","p":0.1289,"v":67},{"t":"2024-07-06T21:00","p":0.1304,"v":110},{"t":"2024-07-06T22:00","p":0.1283,"v":111},{"t":"2024-07-06T23:00","p":0.1300,"v":112},
{"t":"2024-07-07T00:00","p":0.1286,"v":97},{"t":"2024-07-07T01:00","p":0.1305,"v":108},{"t":"2024-07-07T02:00","p":0.1279,"v":108},{"t":"2024-07-07T03:00","p":0.1271,"v":107},{"t":"2024-07-07T04:00","p":0.1261,"v":107},{"t":"2024-07-07T05:00","p":0.1248,"v":108},{"t":"2024-07-07T06:00","p":0.1224,"v":110},{"t":"2024-07-07T07:00","p":0.1218,"v":112},{"t":"2024-07-07T08:00","p":0.1232,"v":113},{"t":"2024-07-07T09:00","p":0.1232,"v":115},{"t":"2024-07-07T10:00","p":0.1213,"v":116},{"t":"2024-07-07T11:00","p":0.1208,"v":117},{"t":"2024-07-07T12:00","p":0.1188,"v":116},{"t":"2024-07-07T13:00","p":0.1190,"v":114},{"t":"2024-07-07T14:00","p":0.1195,"v":112},{"t":"2024-07-07T15:00","p":0.1190,"v":110},{"t":"2024-07-07T16:00","p":0.1190,"v":108},{"t":"2024-07-07T17:00","p":0.1187,"v":105},{"t":"2024-07-07T18:00","p":0.1180,"v":103},{"t":"2024-07-07T19:00","p":0.1188,"v":101},{"t":"2024-07-07T20:00","p":0.1170,"v":99},{"t":"2024-07-07T21:00","p":0.1159,"v":97},{"t":"2024-07-07T22:00","p":0.1159,"v":96},{"t":"2024-07-07T23:00","p":0.1164,"v":95},
{"t":"2024-07-08T00:00","p":0.1143,"v":85},{"t":"2024-07-08T01:00","p":0.1151,"v":96},{"t":"2024-07-08T02:00","p":0.1141,"v":97},{"t":"2024-07-08T03:00","p":0.1139,"v":97},{"t":"2024-07-08T04:00","p":0.1141,"v":97},{"t":"2024-07-08T05:00","p":0.1185,"v":97},{"t":"2024-07-08T06:00","p":0.1239,"v":97},{"t":"2024-07-08T07:00","p":0.1282,"v":97},{"t":"2024-07-08T08:00","p":0.1239,"v":97},{"t":"2024-07-08T09:00","p":0.1202,"v":97},{"t":"2024-07-08T10:00","p":0.1235,"v":97},{"t":"2024-07-08T11:00","p":0.1235,"v":99},{"t":"2024-07-08T12:00","p":0.1184,"v":102},{"t":"2024-07-08T13:00","p":0.1188,"v":104},{"t":"2024-07-08T14:00","p":0.1161,"v":106},{"t":"2024-07-08T15:00","p":0.1159,"v":104},{"t":"2024-07-08T16:00","p":0.1151,"v":102},{"t":"2024-07-08T17:00","p":0.1157,"v":100},{"t":"2024-07-08T18:00","p":0.1165,"v":98},{"t":"2024-07-08T19:00","p":0.1214,"v":93},{"t":"2024-07-08T20:00","p":0.1202,"v":98},{"t":"2024-07-08T21:00","p":0.1202,"v":100},{"t":"2024-07-08T22:00","p":0.1208,"v":101},{"t":"2024-07-08T23:00","p":0.1183,"v":102},
{"t":"2024-07-09T00:00","p":0.1186,"v":103},{"t":"2024-07-09T01:00","p":0.1209,"v":105},{"t":"2024-07-09T02:00","p":0.1186,"v":107},{"t":"2024-07-09T03:00","p":0.1183,"v":109},{"t":"2024-07-09T04:00","p":0.1173,"v":111},{"t":"2024-07-09T05:00","p":0.1180,"v":112},{"t":"2024-07-09T06:00","p":0.1226,"v":113},{"t":"2024-07-09T07:00","p":0.1239,"v":113},{"t":"2024-07-09T08:00","p":0.1218,"v":113},{"t":"2024-07-09T09:00","p":0.1247,"v":113},{"t":"2024-07-09T10:00","p":0.1273,"v":113},{"t":"2024-07-09T11:00","p":0.1226,"v":113},{"t":"2024-07-09T12:00","p":0.1202,"v":111},{"t":"2024-07-09T13:00","p":0.1206,"v":110},{"t":"2024-07-09T14:00","p":0.1214,"v":108},{"t":"2024-07-09T15:00","p":0.1218,"v":107},{"t":"2024-07-09T16:00","p":0.1194,"v":105},{"t":"2024-07-09T17:00","p":0.1226,"v":106},{"t":"2024-07-09T18:00","p":0.1228,"v":108},{"t":"2024-07-09T19:00","p":0.1230,"v":109},{"t":"2024-07-09T20:00","p":0.1225,"v":111},{"t":"2024-07-09T21:00","p":0.1214,"v":112},{"t":"2024-07-09T22:00","p":0.1200,"v":114},{"t":"2024-07-09T23:00","p":0.1186,"v":115},
{"t":"2024-07-10T00:00","p":0.1177,"v":116},{"t":"2024-07-10T01:00","p":0.1180,"v":117},{"t":"2024-07-10T02:00","p":0.1182,"v":118},{"t":"2024-07-10T03:00","p":0.1206,"v":117},{"t":"2024-07-10T04:00","p":0.1167,"v":115},{"t":"2024-07-10T05:00","p":0.1173,"v":113},{"t":"2024-07-10T06:00","p":0.1161,"v":111},{"t":"2024-07-10T07:00","p":0.1186,"v":109},{"t":"2024-07-10T08:00","p":0.1208,"v":107},{"t":"2024-07-10T09:00","p":0.1206,"v":106},{"t":"2024-07-10T10:00","p":0.1202,"v":104},{"t":"2024-07-10T11:00","p":0.1178,"v":104},{"t":"2024-07-10T12:00","p":0.1210,"v":105},{"t":"2024-07-10T13:00","p":0.1217,"v":105},{"t":"2024-07-10T14:00","p":0.1202,"v":105},{"t":"2024-07-10T15:00","p":0.1194,"v":58},{"t":"2024-07-10T16:00","p":0.1188,"v":106},{"t":"2024-07-10T17:00","p":0.1183,"v":107},{"t":"2024-07-10T18:00","p":0.1188,"v":107},{"t":"2024-07-10T19:00","p":0.1185,"v":107},{"t":"2024-07-10T20:00","p":0.1170,"v":106},{"t":"2024-07-10T21:00","p":0.1145,"v":105},{"t":"2024-07-10T22:00","p":0.1139,"v":104},{"t":"2024-07-10T23:00","p":0.1145,"v":103},
{"t":"2024-07-11T00:00","p":0.1159,"v":101},{"t":"2024-07-11T01:00","p":0.1121,"v":99},{"t":"2024-07-11T02:00","p":0.1125,"v":97},{"t":"2024-07-11T03:00","p":0.1151,"v":95},{"t":"2024-07-11T04:00","p":0.1145,"v":93},{"t":"2024-07-11T05:00","p":0.1129,"v":95},{"t":"2024-07-11T06:00","p":0.1119,"v":96},{"t":"2024-07-11T07:00","p":0.1126,"v":97},{"t":"2024-07-11T08:00","p":0.1141,"v":98},{"t":"2024-07-11T09:00","p":0.1123,"v":100},{"t":"2024-07-11T10:00","p":0.1119,"v":101},{"t":"2024-07-11T11:00","p":0.1133,"v":102},{"t":"2024-07-11T12:00","p":0.1143,"v":103},{"t":"2024-07-11T13:00","p":0.1133,"v":104},{"t":"2024-07-11T14:00","p":0.1121,"v":105},{"t":"2024-07-11T15:00","p":0.1114,"v":106},{"t":"2024-07-11T16:00","p":0.1113,"v":106},{"t":"2024-07-11T17:00","p":0.1115,"v":107},{"t":"2024-07-11T18:00","p":0.1127,"v":107}
]},
"data":{"name":"market"},
"encoding":{
"x":{"field":"t","type":"temporal",
"scale":{"padding":0,"domain":[{"year":2024,"month":6,"date":11,"hours":17,"minutes":18},{"year":2024,"month":7,"date":11,"hours":18,"minutes":21}]},
"axis":{"title":null,"grid":false,"format":"%-d. %b",
"values":[{"year":2024,"month":6,"date":14},{"year":2024,"month":6,"date":17},{"year":2024,"month":6,"date":20},{"year":2024,"month":6,"date":23},{"year":2024,"month":6,"date":26},{"year":2024,"month":6,"date":29},{"year":2024,"month":7,"date":2},{"year":2024,"month":7,"date":5},{"year":2024,"month":7,"date":8},{"year":2024,"month":7,"date":11}],
"labelFont":"Inter","labelFontSize":23,"labelColor":"#64748b","labelPadding":0,"labelFlush":false,"labelOverlap":false,
"domainColor":"#f0f1f5","domainWidth":2,"tickColor":"#eef0f4","tickWidth":1.5,"tickSize":18}}
},
"layer":[
{"mark":{"type":"bar","width":2.2,"color":"#f1f2f5","clip":true},
"encoding":{"y":{"field":"v","type":"quantitative","scale":{"domain":[0,120],"range":[898,778]},"axis":null}}},
{"encoding":{"y":{"field":"p","type":"quantitative","scale":{"domain":[0.075,0.25],"range":[718,0]},
"axis":{"orient":"right","title":null,"values":[0.075,0.1,0.125,0.15,0.175,0.2,0.225,0.25],"labelExpr":"'$' + datum.value","domain":false,"ticks":false,"labelFont":"Inter","labelFontSize":23,"labelColor":"#64748b","labelPadding":30,"labelOffset":-9,"labelFlush":false,"labelOverlap":false,"grid":true,"gridColor":"#f0f1f6","gridWidth":2}}},
"layer":[
{"mark":{"type":"area","line":false,"color":{"gradient":"linear","x1":0,"y1":0,"x2":0,"y2":1,"stops":[{"offset":0,"color":"rgba(255,58,51,0.25)"},{"offset":1,"color":"rgba(255,58,51,0)"}]}},
"encoding":{"y2":{"datum":0.075}}},
{"mark":{"type":"line","color":"#ff3a33","strokeWidth":4,"strokeJoin":"round","strokeCap":"round"}},
{"data":{"values":[{"t":"2024-07-08T12:00","p":0.086}]},
"mark":{"type":"point","filled":true,"shape":"circle","size":2916,"fill":"#ffffff","fillOpacity":0.5,"stroke":"#e8e8e8","strokeWidth":2,"opacity":1}},
{"data":{"values":[{"t":"2024-07-08T12:00","p":0.086}]},
"mark":{"type":"point","filled":true,"size":2916,"color":"#ececec","opacity":1,"shape":"M-0.65,0.8 C-0.7,0.1 -0.6,-0.4 -0.3,-0.65 C-0.05,-0.85 0.25,-0.55 0.35,-0.35 C0.55,-0.3 0.8,-0.2 0.75,0 C0.7,0.2 0.4,0.25 0.25,0.25 C0.1,0.4 0.15,0.6 0.25,0.85 C-0.1,1 -0.45,0.98 -0.65,0.8 Z"}},
{"data":{"values":[{"t":"2024-07-08T10:30","p":0.0877}]},
"mark":{"type":"point","filled":true,"shape":"circle","size":120,"color":"#ffffff","opacity":1}},
{"data":{"values":[{"t":"2024-07-08T10:30","p":0.0877}]},
"mark":{"type":"point","filled":true,"shape":"circle","size":35,"color":"#c9c9c9","opacity":1}},
{"data":{"values":[{"t":"2024-07-09T03:00","p":0.086,"label":"CoinGecko"}]},
"mark":{"type":"text","align":"left","baseline":"middle","font":"Inter","fontSize":26,"fontWeight":500,"color":"#d6d6d6"},
"encoding":{"text":{"field":"label"}}}
]}
],
"resolve":{"scale":{"y":"independent"}}
}
